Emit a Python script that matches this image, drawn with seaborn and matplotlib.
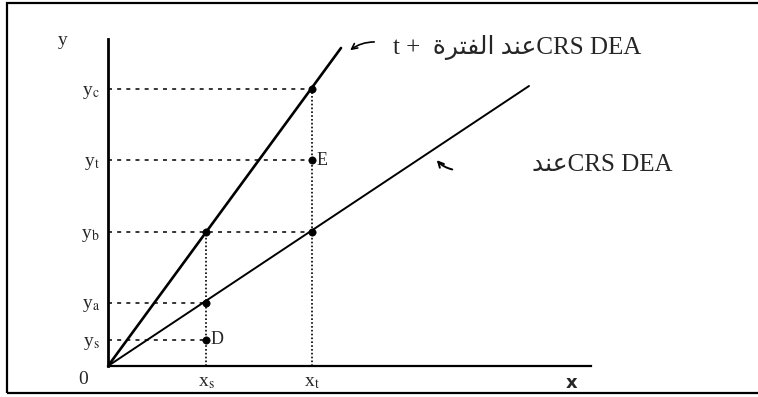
import matplotlib
matplotlib.use("Agg")
import matplotlib.pyplot as plt
from matplotlib.patches import Rectangle
import pandas as pd
import seaborn as sns

# ── Values (1 unit = 10 px) ───────────────────────────────────────────
xs, xt = 9.8, 20.4
y_levels = {"yc": 27.7, "yt": 20.6, "yb": 13.4, "ya": 6.3, "ys": 2.6}

front_t1_x = [0, 23.3]      # CRS frontier, period t+1 (steep)
front_t1_y = [0, 31.8]
front_t_x = [0, 42.1]       # CRS frontier, period t (flat)
front_t_y = [0, 28.0]

pt_x = [xs, xt, xt, xt, xs, xs]
pt_y = [13.4, 27.7, 20.6, 13.4, 6.3, 2.6]
pt_lab = ["", "", "E", "", "", "D"]

# horizontal guides: level -> where they stop
h_lvl = [27.7, 20.6, 13.4, 6.3, 2.6]
h_end = [20.7, xt, xt, xs, xs]
# vertical guides
v_x = [xs, xt]
v_top = [13.4, 27.7]

ytick_vals = [2.6, 6.3, 13.4, 20.6, 27.7]
ytick_labs = ["y$_\\mathrm{s}$", "y$_\\mathrm{a}$", "y$_\\mathrm{b}$",
              "y$_\\mathrm{t}$", "y$_\\mathrm{c}$"]
xtick_vals = [xs, xt]
xtick_labs = ["x$_\\mathrm{s}$", "x$_\\mathrm{t}$"]

# Arabic words shaped by hand (presentation forms, visual order)
AR_INDA = "\uFEAA\uFEE8\uFECB"                       # عند
AR_ALFATRA = "\uFE93\uFEAE\uFE98\uFED4\uFEDF\uFE8D"  # الفترة
label_t1 = "t +  " + AR_ALFATRA + " " + AR_INDA + "CRS DEA"
label_t = AR_INDA + "CRS DEA"

# ── Style ─────────────────────────────────────────────────────────────
sns.set_style("white")
plt.rcParams["font.family"] = ["Liberation Serif", "DejaVu Sans"]
plt.rcParams["mathtext.fontset"] = "stix"

fig = plt.figure(figsize=(7.58, 3.97), dpi=100)
ax = fig.add_axes([108/758, 31/397, 483/758, 327/397])

# frontiers
sns.lineplot(x=front_t1_x, y=front_t1_y, ax=ax, color="black", lw=1.9,
             sort=False, estimator=None)
sns.lineplot(x=front_t_x, y=front_t_y, ax=ax, color="black", lw=1.4,
             sort=False, estimator=None)

# guides
for yv, xe in zip(h_lvl, h_end):
    ax.plot([0, xe], [yv, yv], color="black", lw=1.1, ls=(0, (2.6, 3.4)))
for xv, yt_ in zip(v_x, v_top):
    ax.plot([xv, xv], [0, yt_], color="black", lw=1.2, ls=(0, (1, 1.3)))

# points
pts = pd.DataFrame({"x": pt_x, "y": pt_y})
sns.scatterplot(data=pts, x="x", y="y", ax=ax, color="black", s=28,
                edgecolor="black", zorder=5)
for x, y, lab in zip(pt_x, pt_y, pt_lab):
    if lab:
        ax.text(x + 0.5, y, lab, fontsize=13, va="center", ha="left")

ax.set_xlim(0, 48.3)
ax.set_ylim(0, 32.7)
ax.set_yticks(ytick_vals, ytick_labs, fontsize=14)
ax.set_xticks(xtick_vals, xtick_labs, fontsize=14)
ax.tick_params(length=0, pad=6)
ax.set_xlabel("")
ax.set_ylabel("")
for s in ["top", "right"]:
    ax.spines[s].set_visible(False)
ax.spines["left"].set_linewidth(2.0)
ax.spines["bottom"].set_linewidth(1.6)
ax.spines["left"].set_color("black")
ax.spines["bottom"].set_color("black")

ax.text(-2.5, -1.4, "0", fontsize=14, ha="center", va="center")
ax.text(-4.5, 32.6, "y", fontsize=14, ha="center", va="center")
ax.text(46.4, -1.7, "x", fontsize=13, ha="center", va="center",
        family="DejaVu Sans", fontweight="bold")

# frontier labels and arrows
ax.text(53.3, 31.9, label_t1, fontsize=18, ha="right", va="center",
        clip_on=False)
ax.text(56.4, 20.1, label_t, fontsize=18, ha="right", va="center",
        clip_on=False)
ax.annotate("", xy=(24.0, 31.4), xytext=(26.9, 32.4),
            arrowprops=dict(arrowstyle="->", color="black", lw=1.2,
                            connectionstyle="arc3,rad=0.2"),
            annotation_clip=False)
ax.annotate("", xy=(32.7, 20.8), xytext=(34.7, 19.6),
            arrowprops=dict(arrowstyle="->", color="black", lw=1.4,
                            connectionstyle="arc3,rad=-0.2"),
            annotation_clip=False)

# outer frame (left, top, bottom)
fig.add_artist(Rectangle((7/758, 4/397), 1.1, 1 - 7/397, fill=False,
                         edgecolor="black", lw=1.6,
                         transform=fig.transFigure, clip_on=False))

fig.savefig("out.png", dpi=100)
